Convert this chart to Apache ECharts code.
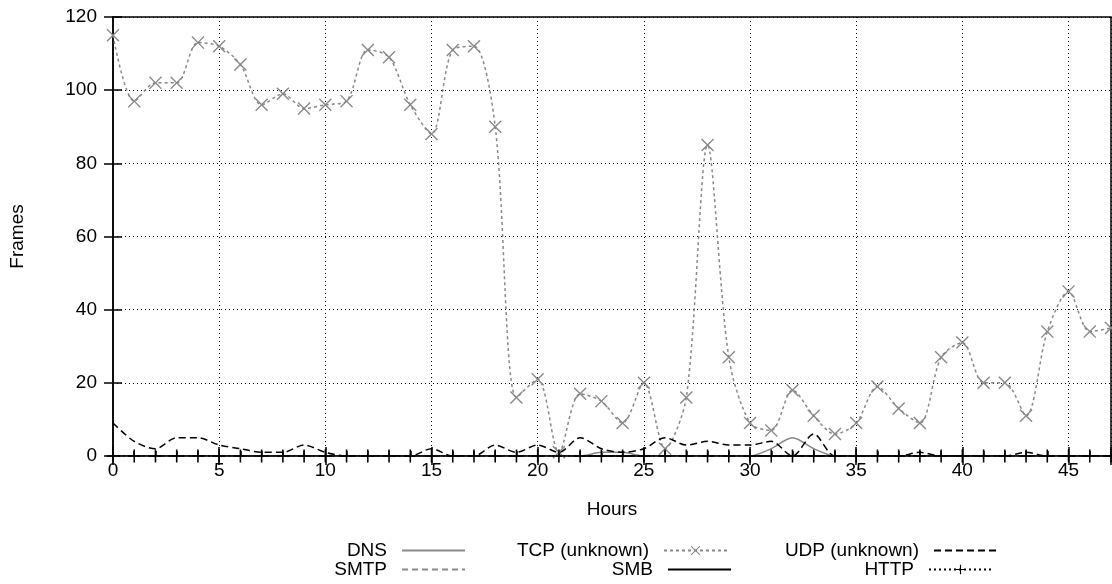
<!DOCTYPE html>
<html>
<head>
  <meta charset="utf-8">
  <script src="https://cdn.jsdelivr.net/npm/echarts@6/dist/echarts.min.js"></script>
</head>
<body style="margin:0;background:#fff;">
<div id="main" style="width:1112px;height:584px;"></div>
<script type="text/javascript">
var hours = [0,1,2,3,4,5,6,7,8,9,10,11,12,13,14,15,16,17,18,19,20,21,22,23,
             24,25,26,27,28,29,30,31,32,33,34,35,36,37,38,39,40,41,42,43,44,45,46,47];
var tcpFrames = [115,97,102,102,113,112,107,96,99,95,96,97,111,109,96,88,111,112,90,16,21,1,17,15,
                 9,20,2,16,85,27,9,7,18,11,6,9,19,13,9,27,31,20,20,11,34,45,34,35];
var udpFrames = [9,4,2,5,5,3,2,1,1,3,1,0,0,0,0,2,0,0,3,1,3,1,5,2,
                 1,2,5,3,4,3,3,4,0,6,0,0,0,0,1,0,0,0,0,1,0,0,0,0];
var dnsFrames = [0,0,0,0,0,0,0,0,0,0,0,0,0,0,0,0,0,0,0,0,0,0,0,1,
                 1,0,0,0,0,0,0,2,5,2,0,0,0,0,0,0,0,0,0,0,0,0,0,0];
var smtpFrames = [0,0,0,0,0,0,0,0,0,0,0,0,0,0,0,0,0,0,0,0,0,0,0,0,
                  0,0,0,0,0,0,0,0,0,0,0,0,0,0,0,0,0,0,0,0,0,0,0,0];
var smbFrames = [0,0,0,0,0,0,0,0,0,0,0,0,0,0,0,0,0,0,0,0,0,0,0,0,
                 0,0,0,0,0,0,0,0,0,0,0,0,0,0,0,0,0,0,0,0,0,0,0,0];
var httpFrames = [0,0,0,0,0,0,0,0,0,0,0,0,0,0,0,0,0,0,0,0,0,0,0,0,
                  0,0,0,0,0,0,0,0,0,0,0,0,0,0,0,0,0,0,0,0,0,0,0,0];

var FONT = 'Liberation Sans';
var FS = 19;
var GRAY = '#888888';
// thin x and + marks, filled outlines
var crossPath = 'path://M0,0.75L0.75,0L5,4.25L9.25,0L10,0.75L5.75,5L10,9.25L9.25,10L5,5.75L0.75,10L0,9.25L4.25,5Z';
var plusPath = 'path://M4.4,0H5.6V4.4H10V5.6H5.6V10H4.4V5.6H0V4.4H4.4Z';

function pairs(vals) {
  return hours.map(function (h, i) { return [h, vals[i]]; });
}

function mkSeries(name, vals, color, type, symbol) {
  return {
    name: name,
    type: 'line',
    data: pairs(vals),
    smooth: 0.3,
    symbol: symbol || 'none',
    symbolSize: 13,
    showSymbol: !!symbol,
    itemStyle: { color: color, borderWidth: 0 },
    lineStyle: { color: color, width: 1.5, type: type },
    clip: true,
    animation: false
  };
}

function mkLegend(name, right, top, hasMark) {
  return {
    data: [name],
    right: right,
    top: top,
    align: 'right',
    itemWidth: 63,
    itemHeight: 12,
    padding: 0,
    itemStyle: hasMark ? {} : { opacity: 0 },
    textStyle: { fontFamily: FONT, fontSize: FS, color: '#000', padding: [0, 10, 0, 0] },
    selectedMode: false
  };
}

var myChart = echarts.init(document.getElementById('main'));

var gridLine = { show: true, lineStyle: { color: '#000', type: [1, 3], width: 1 } };

myChart.setOption({
  backgroundColor: '#fff',
  animation: false,
  grid: {
    left: 113, right: 1, top: 17, bottom: 128,
    show: true, borderColor: '#000', borderWidth: 1.5, backgroundColor: 'transparent'
  },
  legend: [
    mkLegend('DNS', 646, 541, false),
    mkLegend('TCP (unknown)', 384, 541, true),
    mkLegend('UDP (unknown)', 114, 541, false),
    mkLegend('SMTP', 646, 560, false),
    mkLegend('SMB', 380, 560, false),
    mkLegend('HTTP', 119, 560, true)
  ],
  xAxis: [{
    type: 'value', min: 0, max: 47, interval: 5,
    name: 'Hours', nameLocation: 'middle', nameGap: 44,
    nameTextStyle: { fontFamily: FONT, fontSize: FS, color: '#000' },
    axisLine: { show: true, onZero: false, lineStyle: { color: '#000', width: 1.5 } },
    axisTick: { show: true, inside: true, length: 9, lineStyle: { color: '#000', width: 1.5 } },
    minorTick: { show: true, splitNumber: 5, length: 5, lineStyle: { color: '#000', width: 1.5 } },
    axisLabel: { fontFamily: FONT, fontSize: FS, color: '#000', margin: 5, showMaxLabel: false },
    splitLine: gridLine
  }, {
    type: 'value', min: 0, max: 47, interval: 5, position: 'top',
    axisLine: { show: false },
    axisTick: { show: true, inside: true, length: 9, lineStyle: { color: '#000', width: 1.5 } },
    axisLabel: { show: false },
    splitLine: { show: false }
  }],
  yAxis: [{
    type: 'value', min: 0, max: 120, interval: 20,
    name: 'Frames', nameLocation: 'middle', nameGap: 86, nameRotate: 90,
    nameTextStyle: { fontFamily: FONT, fontSize: FS, color: '#000' },
    axisLine: { show: true, lineStyle: { color: '#000', width: 1.5 } },
    axisTick: { show: true, inside: true, length: 9, lineStyle: { color: '#000', width: 1.5 } },
    axisLabel: { fontFamily: FONT, fontSize: FS, color: '#000', margin: 16 },
    splitLine: gridLine
  }, {
    type: 'value', min: 0, max: 120, interval: 20, position: 'right',
    axisLine: { show: false },
    axisTick: { show: true, inside: true, length: 9, lineStyle: { color: '#000', width: 1.5 } },
    axisLabel: { show: false },
    splitLine: { show: false }
  }],
  series: [
    mkSeries('DNS', dnsFrames, GRAY, 'solid'),
    mkSeries('SMTP', smtpFrames, GRAY, [6, 4]),
    mkSeries('TCP (unknown)', tcpFrames, GRAY, [3, 3], crossPath),
    mkSeries('SMB', smbFrames, '#000', 'solid'),
    mkSeries('UDP (unknown)', udpFrames, '#000', [7, 4]),
    mkSeries('HTTP', httpFrames, '#000', [2, 3], plusPath)
  ]
});
</script>
</body>
</html>
